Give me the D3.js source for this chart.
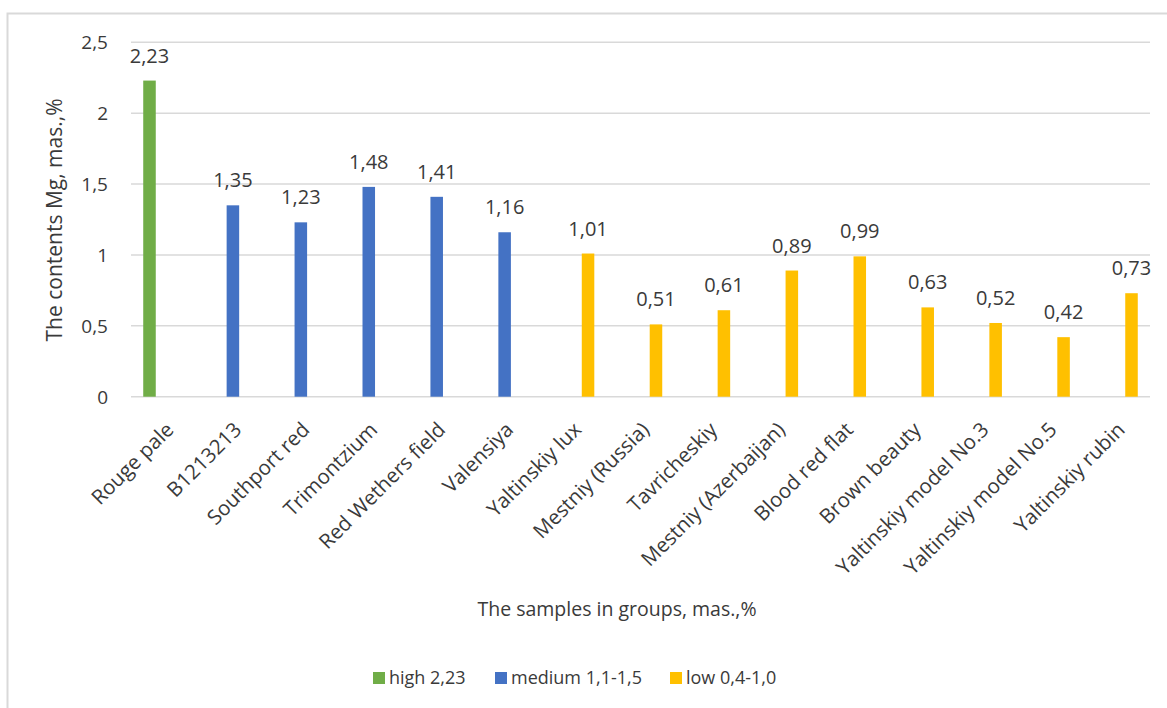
<!DOCTYPE html>
<html>
<head>
<meta charset="utf-8">
<script src="https://cdnjs.cloudflare.com/ajax/libs/d3/7.8.5/d3.min.js"></script>
<style>
  html, body { margin: 0; padding: 0; background: #fff; }
  svg text { font-family: "Open Sans", "Noto Sans", sans-serif; fill: #3a3a3a; }
</style>
</head>
<body>
<svg id="chart" width="1167" height="708"></svg>
<script>
// Chart data
const categories = [
  'Rouge pale', 'B1213213', 'Southport red', 'Trimontzium', 'Red Wethers field',
  'Valensiya', 'Yaltinskiy lux', 'Mestniy (Russia)', 'Tavricheskiy',
  'Mestniy (Azerbaijan)', 'Blood red flat', 'Brown beauty',
  'Yaltinskiy model No.3', 'Yaltinskiy model No.5', 'Yaltinskiy rubin'
];
const values = [2.23, 1.35, 1.23, 1.48, 1.41, 1.16, 1.01, 0.51, 0.61, 0.89, 0.99, 0.63, 0.52, 0.42, 0.73];
// which series (group) each sample belongs to
const groups = ['high', 'medium', 'medium', 'medium', 'medium', 'medium',
  'low', 'low', 'low', 'low', 'low', 'low', 'low', 'low', 'low'];
const seriesKeys = ['high', 'medium', 'low'];
const seriesLabels = ['high 2,23', 'medium 1,1-1,5', 'low 0,4-1,0'];
const yTicks = [0, 0.5, 1, 1.5, 2, 2.5];

const colors = { high: '#70AD47', medium: '#4472C4', low: '#FFC000' };
const fmt = v => String(v).replace('.', ',');

const svg = d3.select('#chart');

// Outer chart frame (only top and left edges are visible in the picture)
svg.append('rect')
  .attr('x', 7.5).attr('y', 13.5)
  .attr('width', 1300).attr('height', 800)
  .attr('fill', 'none')
  .attr('stroke', '#d9d9d9')
  .attr('stroke-width', 2);

const plot = { left: 131, right: 1150, top: 42.3, bottom: 396.7 };

const x0 = d3.scaleBand()
  .domain(categories)
  .range([plot.left, plot.right])
  .padding(0);

const clusterHalf = x0.bandwidth() * 0.32;
const x1 = d3.scaleBand()
  .domain(seriesKeys)
  .range([x0.bandwidth() / 2 - clusterHalf, x0.bandwidth() / 2 + clusterHalf])
  .paddingInner(0.19)
  .paddingOuter(0);

const y = d3.scaleLinear()
  .domain([0, 2.5])
  .range([plot.bottom, plot.top]);

// Gridlines
svg.append('g')
  .selectAll('line')
  .data(yTicks)
  .join('line')
  .attr('x1', plot.left).attr('x2', plot.right)
  .attr('y1', d => y(d)).attr('y2', d => y(d))
  .attr('stroke', '#d9d9d9')
  .attr('stroke-width', 1.6);

// Y tick labels
svg.append('g')
  .selectAll('text')
  .data(yTicks)
  .join('text')
  .attr('x', 108)
  .attr('y', d => y(d))
  .attr('dy', '0.36em')
  .attr('text-anchor', 'end')
  .attr('font-size', 19)
  .text(d => fmt(d));

// Bars
const rows = categories.map((c, i) => ({ cat: c, value: values[i], group: groups[i] }));

svg.append('g')
  .selectAll('rect')
  .data(rows)
  .join('rect')
  .attr('x', d => x0(d.cat) + x1(d.group))
  .attr('width', x1.bandwidth())
  .attr('y', d => y(d.value))
  .attr('height', d => y(0) - y(d.value))
  .attr('fill', d => colors[d.group]);

// Data labels
svg.append('g')
  .selectAll('text')
  .data(rows)
  .join('text')
  .attr('x', d => x0(d.cat) + x1(d.group) + x1.bandwidth() / 2)
  .attr('y', d => y(d.value) - 18)
  .attr('text-anchor', 'middle')
  .attr('font-size', 20)
  .text(d => fmt(d.value));

// X category labels, rotated
svg.append('g')
  .selectAll('text')
  .data(categories)
  .join('text')
  .attr('transform', d => `translate(${x0(d) + x0.bandwidth() / 2 + 10},${431}) rotate(-45)`)
  .attr('text-anchor', 'end')
  .attr('font-size', 20.5)
  .text(d => d);

// Axis titles
svg.append('text')
  .attr('x', 617)
  .attr('y', 616)
  .attr('text-anchor', 'middle')
  .attr('font-size', 19.5)
  .text('The samples in groups, mas.,%');

svg.append('text')
  .attr('transform', 'translate(62,220) rotate(-90)')
  .attr('text-anchor', 'middle')
  .attr('font-size', 21)
  .text('The contents Mg, mas.,%');

// Legend
const legendX = [373, 495, 670];
const legend = svg.append('g')
  .selectAll('g')
  .data(seriesKeys)
  .join('g')
  .attr('transform', (d, i) => `translate(${legendX[i]},672)`);

legend.append('rect')
  .attr('width', 12).attr('height', 12)
  .attr('fill', d => colors[d]);

legend.append('text')
  .attr('x', 16)
  .attr('y', 6)
  .attr('dy', '0.36em')
  .attr('font-size', 18)
  .text((d, i) => seriesLabels[i]);
</script>
</body>
</html>
